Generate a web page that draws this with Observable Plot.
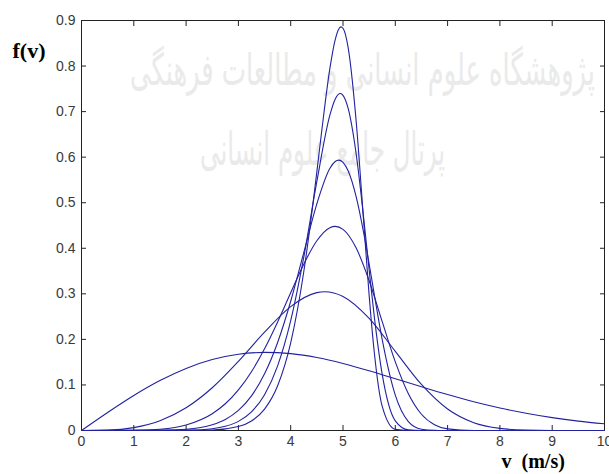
<!DOCTYPE html>
<html>
<head>
<meta charset="utf-8">
<script src="https://cdn.jsdelivr.net/npm/d3@7"></script>
<script src="https://cdn.jsdelivr.net/npm/@observablehq/plot@0.6"></script>
<style>
  html, body { margin: 0; padding: 0; background: #fff; }
  #wrap { position: relative; width: 609px; height: 474px; overflow: hidden; }
  .wm { position: absolute; font-family: "DejaVu Sans", sans-serif; color: #eaeaea; white-space: nowrap; direction: rtl; z-index: 0; transform-origin: 0 0; }
  #chart { position: absolute; left: 0; top: 0; z-index: 1; }
  #chart svg text { white-space: pre; }
</style>
</head>
<body>
<div id="wrap">
  <div class="wm" id="wm1" data-left="130" data-width="465" style="top:44px; font-size:44px;">پژوهشگاه علوم انسانی و مطالعات فرهنگی</div>
  <div class="wm" id="wm2" data-left="200" data-width="245" style="top:122px; font-size:46px;">پرتال جامع علوم انسانی</div>
  <div id="chart"></div>
</div>
<script>
// Tick values and labels
const xTicks = [0, 1, 2, 3, 4, 5, 6, 7, 8, 9, 10];
const xTickLabels = ["0", "1", "2", "3", "4", "5", "6", "7", "8", "9", "10"];
const yTicks = [0, 0.1, 0.2, 0.3, 0.4, 0.5, 0.6, 0.7, 0.8, 0.9];
const yTickLabels = ["0", "0.1", "0.2", "0.3", "0.4", "0.5", "0.6", "0.7", "0.8", "0.9"];

// Axis titles
const yTitle = "f(v)";
const xTitle = "v  (m/s)";

// Curves (shape parameter k of each Weibull-like curve)
const shapes = [2, 4, 6, 8, 10, 12];

const v2 = [0, 0.5, 1, 1.5, 2, 2.5, 3, 3.5, 4, 4.5, 5, 5.5, 6, 6.5, 7, 7.5, 8, 8.5, 9, 9.5, 10];
const f2 = [0, 0.0396, 0.0769, 0.1097, 0.1363, 0.1558, 0.1674, 0.1715, 0.1687, 0.1602, 0.1472, 0.1312, 0.1137, 0.0960, 0.0789, 0.0632, 0.0495, 0.0378, 0.0282, 0.0206, 0.0147];

const v4 = [0, 0.5, 1, 1.5, 2, 2.5, 3, 3.5, 4, 4.5, 4.65, 5, 5.5, 6, 6.5, 7, 7.5, 8, 8.5, 9, 10];
const f4 = [0, 0.0008, 0.0064, 0.0214, 0.0499, 0.0939, 0.1518, 0.2158, 0.2719, 0.3026, 0.3045, 0.2943, 0.2463, 0.1738, 0.1011, 0.0471, 0.0171, 0.0047, 0.0009, 0.0001, 0];

const v6 = [0, 1, 1.5, 2, 2.5, 2.75, 3, 3.25, 3.5, 3.75, 4, 4.25, 4.5, 4.75, 4.85, 5, 5.25, 5.5, 5.75, 6, 6.25, 6.5, 6.75, 7, 7.5, 8, 10];
const f6 = [0, 0.0004, 0.0029, 0.0122, 0.0369, 0.0587, 0.0891, 0.1291, 0.1793, 0.2383, 0.3025, 0.3652, 0.4165, 0.4451, 0.4480, 0.4415, 0.4010, 0.3287, 0.2389, 0.1507, 0.0808, 0.0357, 0.0127, 0.0035, 0.0001, 0, 0];

const v8 = [0, 1.5, 2, 2.5, 2.75, 3, 3.25, 3.5, 3.75, 4, 4.25, 4.5, 4.75, 4.85, 4.92, 5, 5.1, 5.25, 5.4, 5.5, 5.6, 5.75, 6, 6.25, 6.5, 6.75, 7, 10];
const f8 = [0, 0.0004, 0.0026, 0.0125, 0.0241, 0.0440, 0.0760, 0.1244, 0.1932, 0.2837, 0.3906, 0.4976, 0.5755, 0.5904, 0.5935, 0.5886, 0.5695, 0.5138, 0.4308, 0.3655, 0.2974, 0.1997, 0.0778, 0.0197, 0.0029, 0.0002, 0, 0];

const v10 = [0, 2, 2.5, 2.75, 3, 3.25, 3.5, 3.75, 4, 4.25, 4.5, 4.75, 4.85, 4.95, 5, 5.1, 5.25, 5.4, 5.5, 5.6, 5.75, 6, 6.25, 6.5, 10];
const f10 = [0, 0.0005, 0.0039, 0.0092, 0.0200, 0.0409, 0.0785, 0.1419, 0.2411, 0.3805, 0.5467, 0.6927, 0.7273, 0.7396, 0.7358, 0.7064, 0.6087, 0.4616, 0.3525, 0.2484, 0.1231, 0.0211, 0.0013, 0, 0];

const v12 = [0, 2.5, 3, 3.25, 3.5, 3.75, 4, 4.25, 4.4, 4.5, 4.6, 4.75, 4.85, 4.96, 5, 5.1, 5.25, 5.4, 5.5, 5.6, 5.75, 6, 6.25, 10];
const f12 = [0, 0.0012, 0.0087, 0.0209, 0.0468, 0.0982, 0.1925, 0.3484, 0.4741, 0.5678, 0.6640, 0.7953, 0.8577, 0.8860, 0.8829, 0.8394, 0.6812, 0.4511, 0.2967, 0.1697, 0.0530, 0.0024, 0, 0];

const seriesV = [v2, v4, v6, v8, v10, v12];
const seriesF = [f2, f4, f6, f8, f10, f12];

const rows = [];
shapes.forEach((k, s) => {
  seriesV[s].forEach((v, i) => rows.push({k, v, f: seriesF[s][i]}));
});

const lineColor = "#2222a0";
const ink = "#222";

const chart = Plot.plot({
  width: 609,
  height: 474,
  marginTop: 20,
  marginLeft: 81,
  marginRight: 5,
  marginBottom: 44,
  style: {background: "transparent", fontFamily: "'Liberation Sans', Arial, sans-serif", fontSize: "14px", color: "#3a3a3a", overflow: "visible"},
  x: {domain: [0, 10]},
  y: {domain: [0, 0.9]},
  marks: [
    Plot.axisX(xTicks, {anchor: "bottom", tickSize: -5, tickPadding: 11, label: null, stroke: ink, tickFormat: d => xTickLabels[xTicks.indexOf(d)]}),
    Plot.axisX(xTicks, {anchor: "top", tickSize: -5, label: null, stroke: ink, tickFormat: () => ""}),
    Plot.axisY(yTicks, {anchor: "left", tickSize: -5, tickPadding: 11, label: null, stroke: ink, tickFormat: d => yTickLabels[yTicks.indexOf(d)]}),
    Plot.axisY(yTicks, {anchor: "right", tickSize: -5, label: null, stroke: ink, tickFormat: () => ""}),
    Plot.frame({stroke: ink, strokeWidth: 1}),
    Plot.line(rows, {x: "v", y: "f", z: "k", stroke: lineColor, strokeWidth: 1.1, curve: "monotone-x"}),
    Plot.text([yTitle], {frameAnchor: "top-left", text: d => d, dx: -69, dy: 22, textAnchor: "start", fontFamily: "'Liberation Serif', 'Times New Roman', serif", fontWeight: "bold", fontSize: 22, fill: "#000"}),
    Plot.text([xTitle], {frameAnchor: "bottom-right", text: d => d, dx: -103, dy: 37, textAnchor: "start", fontFamily: "'Liberation Serif', 'Times New Roman', serif", fontWeight: "bold", fontSize: 20, fill: "#000"})
  ]
});
document.getElementById("chart").appendChild(chart);

// Fit the faint background watermark lines into their regions
for (const el of document.querySelectorAll(".wm")) {
  const left = +el.dataset.left, target = +el.dataset.width;
  const w = el.getBoundingClientRect().width;
  el.style.left = left + "px";
  el.style.transform = `scaleX(${target / w})`;
}
</script>
</body>
</html>
